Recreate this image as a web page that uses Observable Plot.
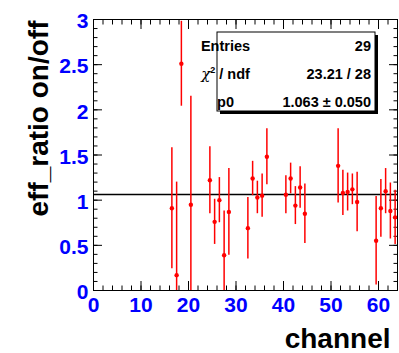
<!DOCTYPE html>
<html>
<head>
<meta charset="utf-8">
<script src="https://cdn.jsdelivr.net/npm/d3@7"></script>
<script src="https://cdn.jsdelivr.net/npm/@observablehq/plot@0.6"></script>
<style>
  html, body { margin: 0; padding: 0; background: white; }
  svg { display: block; }
</style>
</head>
<body>
<div id="chart"></div>
<script>
// Data
const channel = [16.5,17.5,18.5,20.5,24.5,25.5,26.5,27.5,28.5,32.5,33.5,34.5,35.5,36.5,40.5,41.5,42.5,43.5,44.5,51.5,52.5,53.5,54.5,55.5,59.5,60.5,61.5,62.5,63.5];
const ratio   = [0.91,0.17,2.51,0.95,1.22,0.76,1.00,0.39,0.87,0.69,1.24,1.03,1.05,1.48,1.06,1.24,0.94,1.14,0.85,1.38,1.08,1.09,1.12,0.98,0.55,0.91,1.10,0.88,0.81];
const err     = [0.67,1.03,0.47,1.20,0.37,0.25,0.25,0.49,0.48,0.34,0.19,0.18,0.24,0.31,0.21,0.17,0.21,0.23,0.33,0.41,0.25,0.21,0.17,0.33,0.49,0.32,0.25,0.31,0.30];
const fitP0 = 1.063;
const xMajorTicks = [0,10,20,30,40,50,60];
const xMinorTicks = d3.range(0, 65, 2);
const yMajorTicks = [0,0.5,1,1.5,2,2.5,3];
const yMinorTicks = d3.range(0, 31).map(d => d / 10);
const statsRows = [["Entries", "29"], ["chi", "23.21 / 28"], ["p0", "1.063 \u00b1 0.050"]];

const data = channel.map((c, i) => ({channel: c, ratio: ratio[i], err: err[i]}));

const labelStyle = {fill: "#0000ff", fontWeight: "bold", fontSize: 21, fontFamily: "Liberation Sans"};

const chart = Plot.plot({
  width: 399,
  height: 353,
  marginLeft: 93,
  marginRight: 2,
  marginTop: 19,
  marginBottom: 63,
  style: {fontFamily: "Liberation Sans", background: "white", overflow: "visible"},
  x: {domain: [0, 64], label: null},
  y: {domain: [0, 3], label: null},
  marks: [
    // tick marks (inside the frame, on all four sides)
    Plot.axisX({anchor: "bottom", ticks: xMajorTicks, tickSize: -9, fill: "none", label: null}),
    Plot.axisX({anchor: "bottom", ticks: xMinorTicks, tickSize: -4.5, fill: "none", label: null}),
    Plot.axisX({anchor: "top", ticks: xMajorTicks, tickSize: -9, fill: "none", label: null}),
    Plot.axisX({anchor: "top", ticks: xMinorTicks, tickSize: -4.5, fill: "none", label: null}),
    Plot.axisY({anchor: "left", ticks: yMajorTicks, tickSize: -9, fill: "none", label: null}),
    Plot.axisY({anchor: "left", ticks: yMinorTicks, tickSize: -4.5, fill: "none", label: null}),
    Plot.axisY({anchor: "right", ticks: yMajorTicks, tickSize: -9, fill: "none", label: null}),
    Plot.axisY({anchor: "right", ticks: yMinorTicks, tickSize: -4.5, fill: "none", label: null}),
    // tick labels
    Plot.axisX({anchor: "bottom", ticks: xMajorTicks, tickSize: 0, tickPadding: 6.5, label: null, tickFormat: d => String(d), ...labelStyle}),
    Plot.axisY({anchor: "left", ticks: yMajorTicks, tickSize: 0, tickPadding: 5, dy: 2, label: null, tickFormat: d => String(d), ...labelStyle}),
    // fit line
    Plot.ruleY([fitP0], {stroke: "black", strokeWidth: 1.5}),
    // error bars
    Plot.ruleX(data, {x: "channel", y1: d => d.ratio - d.err, y2: d => d.ratio + d.err, stroke: "#ff0000", strokeWidth: 1.5, clip: true}),
    // points
    Plot.dot(data, {x: "channel", y: "ratio", r: 2.2, fill: "#ff0000", stroke: "none"}),
    Plot.frame({stroke: "black", strokeWidth: 1}),
    // axis titles
    Plot.text(["channel"], {frameAnchor: "bottom-right", text: d => d, dx: -7, dy: 57, textAnchor: "end", lineAnchor: "bottom", fontSize: 28, fontWeight: "bold", fill: "black"}),
    Plot.text(["eff_ratio on/off"], {frameAnchor: "top-left", text: d => d, rotate: -90, dx: -46, dy: 1, textAnchor: "end", lineAnchor: "bottom", fontSize: 28, fontWeight: "bold", fill: "black"})
  ]
});

// Stats box (ROOT-style)
const svg = d3.select(chart);
const bx = 217, by = 32, bw = 158, bh = 79, sh = 3;
const g = svg.append("g").attr("font-family", "Liberation Sans").attr("font-weight", "bold").attr("font-size", 14.5);
g.append("rect").attr("x", bx + sh).attr("y", by + sh).attr("width", bw).attr("height", bh).attr("fill", "black");
g.append("rect").attr("x", bx).attr("y", by).attr("width", bw).attr("height", bh).attr("fill", "white").attr("stroke", "black").attr("stroke-width", 1);
const rowY = [51, 78.5, 106.5];
statsRows.forEach(([k, v], i) => {
  const t = g.append("text").attr("x", bx + 8.5).attr("y", rowY[i]);
  if (k === "chi") {
    t.append("tspan").attr("font-weight", "normal").attr("font-family", "DejaVu Serif").attr("font-style", "italic").attr("font-size", 15).text("\u03c7");
    t.append("tspan").attr("dy", -6).attr("font-size", 9).text("2");
    t.append("tspan").attr("dy", 6).text(" / ndf");
  } else {
    t.text(k);
  }
  g.append("text").attr("x", bx + bw - 4).attr("y", rowY[i]).attr("text-anchor", "end").text(v);
});

document.getElementById("chart").append(chart);
</script>
</body>
</html>
